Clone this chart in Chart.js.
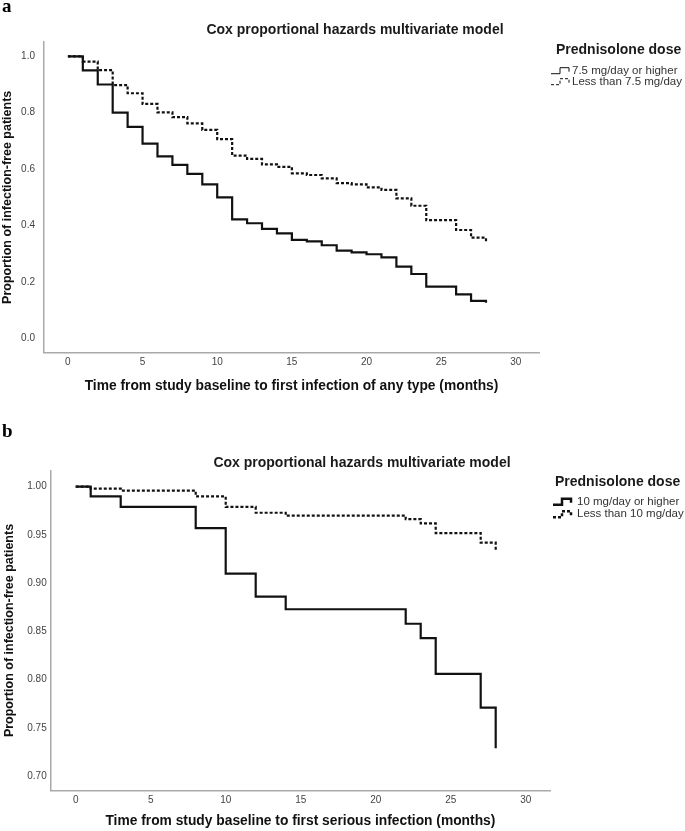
<!DOCTYPE html>
<html>
<head>
<meta charset="utf-8">
<title>Cox proportional hazards - prednisolone dose</title>
<script src="https://cdn.jsdelivr.net/npm/chart.js@4.4.1/dist/chart.umd.min.js"></script>
<style>
  html, body { margin: 0; padding: 0; background: #fff; }
  #wrap { position: relative; width: 685px; height: 831px; }
  canvas { position: absolute; left: 0; }
  #chartA { top: 0; }
  #chartB { top: 415px; }
</style>
</head>
<body>
<div id="wrap">
  <canvas id="chartA" width="685" height="415"></canvas>
  <canvas id="chartB" width="685" height="416"></canvas>
</div>
<script>
// panel a - first infection of any type, 7.5 mg/day cut-off
const monthsA = [0, 1, 2, 3, 4, 5, 6, 7, 8, 9, 10, 11, 12, 13, 14, 15, 16, 17, 18, 19, 20, 21, 22, 23, 24, 26, 27, 28];
const highDoseA = [1.0, 0.95, 0.90, 0.80, 0.75, 0.69, 0.645, 0.615, 0.583, 0.546, 0.50, 0.422, 0.408, 0.388, 0.372,
  0.349, 0.344, 0.330, 0.311, 0.305, 0.298, 0.287, 0.254, 0.228, 0.183, 0.156, 0.133, 0.126];
const lowDoseA = [1.0, 0.981, 0.951, 0.898, 0.869, 0.831, 0.801, 0.784, 0.762, 0.739, 0.706, 0.648, 0.636, 0.617, 0.608,
  0.585, 0.579, 0.567, 0.55, 0.546, 0.535, 0.526, 0.496, 0.470, 0.419, 0.384, 0.357, 0.343];
const labelsA = ['7.5 mg/day or higher', 'Less than 7.5 mg/day'];
const yTicksA = [0, 0.2, 0.4, 0.6, 0.8, 1.0];

// panel b - first serious infection, 10 mg/day cut-off
const monthsB = [0, 1, 3, 8, 10, 12, 14, 22, 23, 24, 27, 28];
const highDoseB = [1.0, 0.99, 0.979, 0.957, 0.910, 0.886, 0.873, 0.858, 0.843, 0.806, 0.771, 0.729];
const lowDoseB = [1.0, 0.998, 0.996, 0.990, 0.979, 0.973, 0.970, 0.9665, 0.962, 0.952, 0.942, 0.933];
const labelsB = ['10 mg/day or higher', 'Less than 10 mg/day'];
const yTicksB = [0.70, 0.75, 0.80, 0.85, 0.90, 0.95, 1.00];

const xTicks = [0, 5, 10, 15, 20, 25, 30];
const chartTitle = 'Cox proportional hazards multivariate model';
const legendTitle = 'Prednisolone dose';
const yTitle = 'Proportion of infection-free patients';

Chart.defaults.font.family = '"Liberation Sans", Arial, sans-serif';

// panel letter, title and step-shaped legend
const decor = {
  id: 'decor',
  afterDraw(chart, args, o) {
    const ctx = chart.ctx;
    ctx.save();
    ctx.fillStyle = '#000';
    ctx.font = 'bold 19px "Liberation Serif", serif';
    ctx.textAlign = 'left';
    ctx.textBaseline = 'alphabetic';
    ctx.fillText(o.letter, 2, o.letterY);

    ctx.fillStyle = '#1a1a1a';
    ctx.font = 'bold 14px "Liberation Sans", Arial, sans-serif';
    ctx.textAlign = 'center';
    ctx.textBaseline = 'middle';
    ctx.fillText(chartTitle, o.titleX, o.titleY);

    ctx.textAlign = 'left';
    ctx.fillText(legendTitle, o.legendX, o.legendY);

    ctx.font = '11.5px "Liberation Sans", Arial, sans-serif';
    chart.data.datasets.forEach((ds, i) => {
      const y = o.itemY + i * o.itemGap;
      const x0 = o.iconX;
      ctx.beginPath();
      ctx.setLineDash(ds.borderDash || []);
      ctx.lineWidth = o.iconWidth;
      ctx.strokeStyle = '#111';
      ctx.moveTo(x0, y + 3);
      ctx.lineTo(x0 + 9, y + 3);
      ctx.lineTo(x0 + 9, y - 3);
      ctx.lineTo(x0 + 18, y - 3);
      ctx.lineTo(x0 + 18, y + 1);
      ctx.stroke();
      ctx.setLineDash([]);
      ctx.fillStyle = '#333';
      ctx.fillText(ds.label, x0 + o.textGap, y);
    });
    ctx.restore();
  }
};

function makeChart(id, months, high, low, labels, yTicks, cfg) {
  const toPts = vals => months.map((m, i) => ({ x: m, y: vals[i] }));
  return new Chart(document.getElementById(id), {
    type: 'line',
    data: {
      datasets: [{
        label: labels[0],
        data: toPts(high),
        borderColor: '#111',
        borderWidth: 2.2,
        stepped: true,
        pointRadius: 0
      }, {
        label: labels[1],
        data: toPts(low),
        borderColor: '#111',
        borderWidth: 2.2,
        borderDash: [3, 2],
        stepped: true,
        pointRadius: 0
      }]
    },
    options: {
      responsive: false,
      animation: false,
      layout: { padding: { top: cfg.top, right: cfg.right, left: 0, bottom: 0 } },
      plugins: {
        legend: { display: false },
        tooltip: { enabled: false },
        decor: cfg.decor
      },
      scales: {
        x: {
          type: 'linear',
          min: cfg.xMin,
          max: cfg.xMax,
          afterBuildTicks: s => { s.ticks = xTicks.map(v => ({ value: v })); },
          afterFit: s => { s.height = cfg.xHeight; },
          grid: { display: false, drawTicks: false },
          border: { display: true, color: '#a9a9a9', width: 1.5 },
          ticks: { color: '#444', font: { size: 10 }, padding: 4, maxRotation: 0 },
          title: {
            display: true, text: cfg.xTitle, color: '#111',
            font: { size: 13.8, weight: 'bold' },
            padding: { top: 0, bottom: cfg.xTitlePad }
          }
        },
        y: {
          min: cfg.yMin,
          max: cfg.yMax,
          afterBuildTicks: s => { s.ticks = yTicks.map(v => ({ value: v })); },
          afterFit: s => { s.width = cfg.yWidth; },
          grid: { display: false, drawTicks: false },
          border: { display: true, color: '#a9a9a9', width: 1.5 },
          ticks: {
            color: '#444', font: { size: 10 }, padding: cfg.yTickPad,
            callback: v => v.toFixed(cfg.digits)
          },
          title: {
            display: true, text: yTitle, color: '#111',
            font: { size: 12.5, weight: 'bold' },
            padding: { top: cfg.yTitlePad, bottom: 0 }
          }
        }
      }
    },
    plugins: [decor]
  });
}

makeChart('chartA', monthsA, highDoseA, lowDoseA, labelsA, yTicksA, {
  top: 42.2, right: 146, xMin: -1.6, xMax: 31.55, yMin: -0.05, yMax: 1.05,
  xHeight: 62.6, xTitlePad: 20.7, yWidth: 44, yTickPad: 9, yTitlePad: 0, digits: 1,
  xTitle: 'Time from study baseline to first infection of any type (months)',
  decor: {
    letter: 'a', letterY: 12, titleX: 355, titleY: 30,
    legendX: 556, legendY: 50, iconX: 551, itemY: 70.7, itemGap: 11,
    iconWidth: 1, textGap: 21
  }
});

makeChart('chartB', monthsB, highDoseB, lowDoseB, labelsB, yTicksB, {
  top: 55.3, right: 135, xMin: -1.667, xMax: 31.62, yMin: 0.685, yMax: 1.017,
  xHeight: 40.3, xTitlePad: 1.2, yWidth: 50.7, yTickPad: 4, yTitlePad: 1.7, digits: 2,
  xTitle: 'Time from study baseline to first serious infection (months)',
  decor: {
    letter: 'b', letterY: 22, titleX: 362, titleY: 47.7,
    legendX: 555, legendY: 66.7, iconX: 553, itemY: 86.7, itemGap: 12.6,
    iconWidth: 2.5, textGap: 24
  }
});
</script>
</body>
</html>
